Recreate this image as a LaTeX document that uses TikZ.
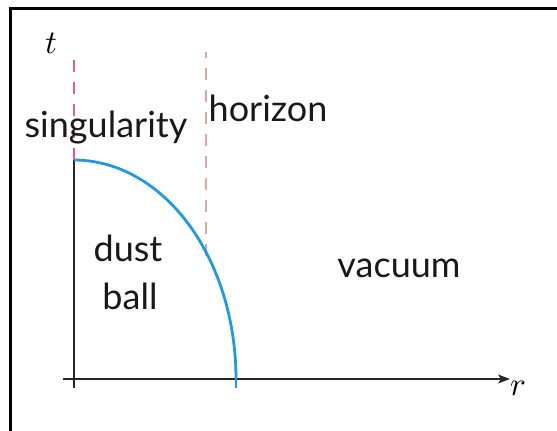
\documentclass[tikz,border=0pt]{standalone}
\usepackage{graphicx}
\usepackage{fontspec}
\setsansfont{Lato}
\usetikzlibrary{arrows.meta}
\definecolor{singpink}{HTML}{E65A9A}
\definecolor{horpink}{HTML}{DCA8A0}
\definecolor{ballblue}{HTML}{1E9BE0}
\tikzset{
  lbl/.style={font=\sffamily\fontsize{36}{40}\selectfont, inner sep=0pt, text=black!90},
  mathlbl/.style={inner sep=0pt},
  axisline/.style={draw=black!85, line width=1.3pt},
  frameline/.style={draw=black, line width=3pt},
}
\begin{document}
\begin{tikzpicture}[x=1pt,y=-1pt]
\useasboundingbox (0,0) rectangle (557,431);
% frame (top and left only)
\draw[frameline] (557,8.5) -- (10.5,8.5) -- (10.5,431);
% coordinates
\coordinate (origin) at (74,379);
\coordinate (ttop) at (74,160);
\coordinate (tbot) at (74,388);
\coordinate (rleft) at (63,379);
\coordinate (rright) at (510,379);
\coordinate (singtop) at (74,57);
\coordinate (hortop) at (206,52);
\coordinate (horbot) at (206,256);
\coordinate (ballend) at (236,379);
\coordinate (ballfoot) at (236,388);
% axes
\draw[axisline] (ttop) -- (tbot);
\draw[axisline, -{Stealth[length=12pt,width=9pt,inset=3pt]}] (rleft) -- (rright);
% dashed lines
\draw[singpink, line width=2.4pt, dash pattern=on 12pt off 10pt] (ttop) -- (singtop);
\draw[horpink, line width=1.6pt, dash pattern=on 12pt off 10pt] (horbot) -- (hortop);
% dust ball boundary
\draw[ballblue, line width=2.8pt] plot[domain=0:90, samples=80] ({74+162*cos(\x)},{379-219*sin(\x)});
\draw[ballblue, line width=2.8pt] (ballend) -- (ballfoot);
% labels
\node[mathlbl] (tlab) at (51,43) {\scalebox{3.3}{$t$}};
\node[mathlbl] (rlab) at (518,388) {\scalebox{3.3}{$r$}};
\node[lbl] (sing) at (106,128) {singularity};
\node[lbl] (hor) at (268,108) {horizon};
\node[lbl] (dust) at (128,248) {dust};
\node[lbl] (ball) at (130,296) {ball};
\node[lbl] (vac) at (399,268) {vacuum};
\end{tikzpicture}
\end{document}
